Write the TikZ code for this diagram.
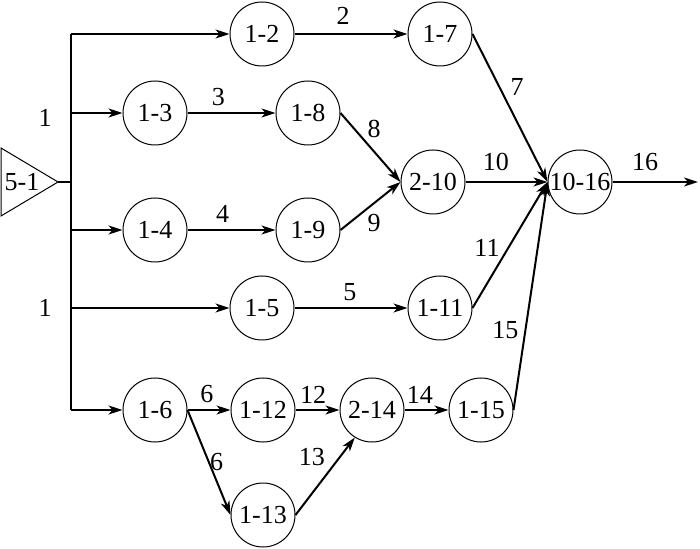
\documentclass[tikz,border=0pt]{standalone}
\usepackage{fontspec}
\setmainfont{Liberation Serif}
\usetikzlibrary{arrows.meta}
\tikzset{
  evt/.style={draw, circle, line width=0.5pt, minimum size=32pt, inner sep=0pt},
  act/.style={line width=1pt, -{Stealth[length=7pt,width=4.5pt,inset=2pt]}},
  lbl/.style={inner sep=1pt},
}
\begin{document}
\begin{tikzpicture}[x=0.5pt, y=-0.5pt, font=\rmfamily\fontsize{13}{15}\selectfont]
    \useasboundingbox (0,0) rectangle (700,549);
    % Fonte 5-1
    \draw[line width=0.5pt] (1,148) -- (58,182) -- (1,216) -- cycle;
    \node[inner sep=0pt] (n51) at (22,182) {5-1};
    \coordinate (tip) at (58,182);
    \coordinate (bus) at (71,182);
    \coordinate (b2) at (71,34);
    \coordinate (b3) at (71,113);
    \coordinate (b4) at (71,230);
    \coordinate (b5) at (71,308);
    \coordinate (b6) at (71,410);
    \coordinate (out) at (698,182);
    % Eventos
    \node[evt] (n12)   at (262,34)  {1-2};
    \node[evt] (n17)   at (440,34)  {1-7};
    \node[evt] (n13)   at (155,113) {1-3};
    \node[evt] (n18)   at (308,113) {1-8};
    \node[evt] (n210)  at (433,182) {2-10};
    \node[evt] (n1016) at (580,182) {10-16};
    \node[evt] (n14)   at (155,230) {1-4};
    \node[evt] (n19)   at (308,230) {1-9};
    \node[evt] (n15)   at (262,308) {1-5};
    \node[evt] (n111)  at (440,308) {1-11};
    \node[evt] (n16)   at (155,410) {1-6};
    \node[evt] (n112)  at (263,410) {1-12};
    \node[evt] (n214)  at (372,410) {2-14};
    \node[evt] (n115)  at (481,410) {1-15};
    \node[evt] (n113)  at (263,515) {1-13};
    % Barramento
    \draw[line width=1pt] (tip) -- (bus);
    \draw[line width=1pt] (b2) -- (b6);
    \node[lbl] (t1a) at (45,118) {1};
    \node[lbl] (t1b) at (45,308) {1};
    \draw[act] (b2) -- (n12);
    \draw[act] (b3) -- (n13);
    \draw[act] (b4) -- (n14);
    \draw[act] (b5) -- (n15);
    \draw[act] (b6) -- (n16);
    % Atividades
    \draw[act] (n12) -- (n17) node[lbl, pos=0.43, above=3pt] {2};
    \draw[act] (n13) -- (n18) node[lbl, pos=0.35, above=2pt] {3};
    \draw[act] (n14) -- (n19) node[lbl, pos=0.4, above=2pt] {4};
    \draw[act] (n15) -- (n111) node[lbl, pos=0.49, above=2pt] {5};
    \draw[act] (n16) -- (n112) node[lbl, pos=0.45, above=2pt] {6};
    \draw[act] (n16.east) -- (n113.west) node[lbl, pos=0.5, right=-1pt] {6};
    \draw[act] (n17.east) -- (n1016.west) node[lbl, pos=0.36, right=4pt] {7};
    \draw[act] (n18.east) -- (n210.west) node[lbl, pos=0.4, above right] {8};
    \draw[act] (n19.east) -- (n210.west) node[lbl, pos=0.4, below right] {9};
    \draw[act] (n210) -- (n1016.west) node[lbl, pos=0.37, above=4pt] {10};
    \draw[act] (n111.east) -- (n1016.west) node[lbl, pos=0.48, left=3pt] {11};
    \draw[act] (n112) -- (n214) node[lbl, pos=0.4, above=2pt] {12};
    \draw[act] (n113.east) -- (n214.238) node[lbl, pos=0.75, left=6pt] {13};
    \draw[act] (n214) -- (n115) node[lbl, pos=0.35, above=2pt] {14};
    \draw[act] (n115.east) -- (n1016.west) node[lbl, pos=0.35, left=2pt] {15};
    \draw[act] (n1016) -- (out) node[lbl, pos=0.38, above=4pt] {16};
\end{tikzpicture}
\end{document}
